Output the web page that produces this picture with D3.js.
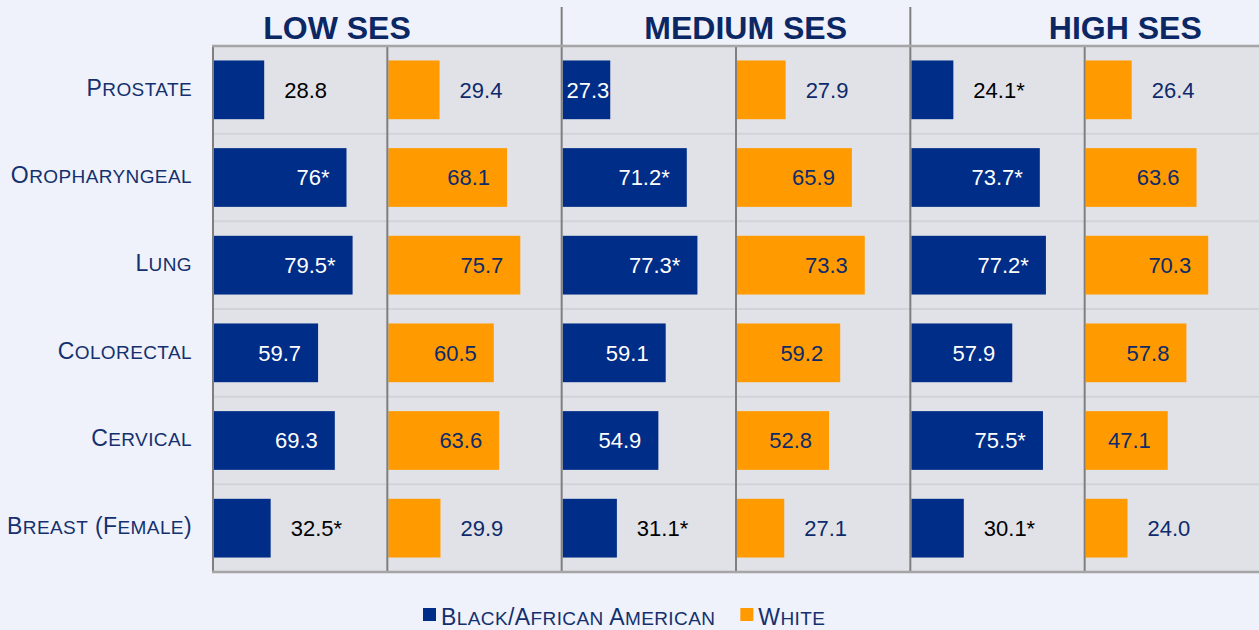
<!DOCTYPE html>
<html>
<head>
<meta charset="utf-8">
<script src="https://d3js.org/d3.v7.min.js"></script>
<style>
    body { margin: 0; background: #eff2fa; }
    svg { display: block; font-family: "Liberation Sans", Arial, sans-serif; }
    .row-line { stroke: #d2d3d9; stroke-width: 2; }
    .panel-line { stroke: #7f7f7f; stroke-width: 2; }
    .frame-line { stroke: #a5a5a5; stroke-width: 2.5; }
    .title { font-size: 32px; font-weight: bold; fill: #0b2764; text-anchor: middle; }
    .value { font-size: 22px; }
    .caps { letter-spacing: 0.4px; }
</style>
</head>
<body>
<div id="chart"></div>
<script>
    // Categories (top to bottom) and SES groups
    const categories = ['Prostate', 'Oropharyngeal', 'Lung', 'Colorectal', 'Cervical', 'Breast (Female)'];
    const sesGroups = ['LOW SES', 'MEDIUM SES', 'HIGH SES'];
    const races = ['Black/African American', 'White'];

    // Values as printed on the chart (strings so "76" and "24.0" keep their form)
    const blackLow = ['28.8', '76', '79.5', '59.7', '69.3', '32.5'];
    const whiteLow = ['29.4', '68.1', '75.7', '60.5', '63.6', '29.9'];
    const blackMedium = ['27.3', '71.2', '77.3', '59.1', '54.9', '31.1'];
    const whiteMedium = ['27.9', '65.9', '73.3', '59.2', '52.8', '27.1'];
    const blackHigh = ['24.1', '73.7', '77.2', '57.9', '75.5', '30.1'];
    const whiteHigh = ['26.4', '63.6', '70.3', '57.8', '47.1', '24.0'];

    // Significant difference markers (*) for Black/African American
    const sigLow = [false, true, true, false, false, true];
    const sigMedium = [false, true, true, false, false, true];
    const sigHigh = [true, true, true, false, true, true];

    const panels = [
        { ses: 0, race: 0, values: blackLow, sig: sigLow },
        { ses: 0, race: 1, values: whiteLow, sig: null },
        { ses: 1, race: 0, values: blackMedium, sig: sigMedium },
        { ses: 1, race: 1, values: whiteMedium, sig: null },
        { ses: 2, race: 0, values: blackHigh, sig: sigHigh },
        { ses: 2, race: 1, values: whiteHigh, sig: null }
    ];

    const colors = ['#002d87', '#ff9b00'];

    const W = 1259, H = 630;
    const plot = { left: 213, right: 1259, top: 46, bottom: 572 };

    const svg = d3.select('#chart').append('svg')
        .attr('width', W)
        .attr('height', H);

    svg.append('rect').attr('width', W).attr('height', H).attr('fill', '#eff2fa');

    // Scales
    const panelScale = d3.scaleBand()
        .domain(d3.range(panels.length))
        .range([plot.left, plot.right]);

    const yScale = d3.scaleBand()
        .domain(categories)
        .range([plot.top, plot.bottom])
        .paddingInner(0.33)
        .paddingOuter(0.165);

    const xScale = d3.scaleLinear()
        .domain([0, 100])
        .range([0, panelScale.bandwidth()]);

    // Plot background
    svg.append('rect')
        .attr('x', plot.left)
        .attr('y', plot.top)
        .attr('width', plot.right - plot.left)
        .attr('height', plot.bottom - plot.top)
        .attr('fill', '#e1e2e8');

    // Row separators
    const step = yScale.step();
    svg.selectAll('.row-line')
        .data(categories.slice(1))
        .enter()
        .append('line')
        .attr('class', 'row-line')
        .attr('x1', plot.left)
        .attr('x2', plot.right)
        .attr('y1', (d, i) => plot.top + step * (i + 1))
        .attr('y2', (d, i) => plot.top + step * (i + 1));

    // Panels
    panels.forEach((p, pi) => {
        const x0 = panelScale(pi);
        const g = svg.append('g').attr('transform', `translate(${x0},0)`);

        g.selectAll('rect.bar')
            .data(p.values)
            .enter()
            .append('rect')
            .attr('class', 'bar')
            .attr('x', 1)
            .attr('y', (d, i) => yScale(categories[i]))
            .attr('width', d => xScale(+d))
            .attr('height', yScale.bandwidth())
            .attr('fill', colors[p.race]);

        g.selectAll('text.value')
            .data(p.values)
            .enter()
            .append('text')
            .attr('class', 'value')
            .each(function (d, i) {
                const v = +d;
                const label = d + (p.sig && p.sig[i] ? '*' : '');
                const end = xScale(v) + 1;
                const t = d3.select(this)
                    .attr('y', yScale(categories[i]) + yScale.bandwidth() / 2)
                    .attr('dy', '0.36em')
                    .text(label);
                // label sits inside the bar end for long bars
                const inside = v > 40 || (p.ses === 1 && p.race === 0 && i === 0);
                if (inside) {
                    const pad = v > 40 ? 17 : 1;
                    t.attr('x', end - pad).attr('text-anchor', 'end')
                        .attr('fill', p.race === 0 ? '#ffffff' : '#0d2a6b');
                } else {
                    t.attr('x', end + 20).attr('text-anchor', 'start')
                        .attr('fill', p.race === 0 ? '#000000' : '#0d2a6b');
                }
            });
    });

    // Panel dividers
    svg.selectAll('.panel-line')
        .data(d3.range(panels.length))
        .enter()
        .append('line')
        .attr('class', 'panel-line')
        .attr('x1', d => panelScale(d))
        .attr('x2', d => panelScale(d))
        .attr('y1', d => (d % 2 === 0 && d > 0) ? 7 : plot.top)
        .attr('y2', plot.bottom);

    // Top & bottom frame
    [plot.top, plot.bottom].forEach(y => {
        svg.append('line')
            .attr('class', 'frame-line')
            .attr('x1', plot.left - 1)
            .attr('x2', plot.right)
            .attr('y1', y)
            .attr('y2', y);
    });

    // SES titles
    const titleOffset = [124, 184, 215];
    svg.selectAll('.title')
        .data(sesGroups)
        .enter()
        .append('text')
        .attr('class', 'title')
        .attr('x', (d, i) => panelScale(i * 2) + titleOffset[i])
        .attr('y', 39)
        .text(d => d);

    // small caps text helper
    function smallCaps(sel, text, big, small) {
        const runs = [];
        for (const ch of text) {
            const isSmall = ch >= 'a' && ch <= 'z';
            const last = runs[runs.length - 1];
            if (last && last.small === isSmall) last.t += ch;
            else runs.push({ small: isSmall, t: ch });
        }
        runs.forEach(r => {
            sel.append('tspan')
                .attr('font-size', r.small ? small : big)
                .text(r.small ? r.t.toUpperCase() : r.t);
        });
    }

    // Category labels
    categories.forEach(c => {
        const t = svg.append('text')
            .attr('class', 'caps')
            .attr('x', 192)
            .attr('y', yScale(c) + yScale.bandwidth() / 2)
            .attr('dy', '0.36em')
            .attr('text-anchor', 'end')
            .attr('fill', '#14306e');
        smallCaps(t, c, 23, 19);
    });

    // Legend
    const legend = svg.append('g').attr('transform', 'translate(423,0)');
    let lx = 0;
    races.forEach((r, i) => {
        legend.append('rect')
            .attr('x', lx)
            .attr('y', 608)
            .attr('width', 13)
            .attr('height', 13)
            .attr('fill', colors[i]);
        const t = legend.append('text')
            .attr('class', 'caps')
            .attr('x', lx + 18)
            .attr('y', 625)
            .attr('fill', '#14306e');
        smallCaps(t, r, 23, 19);
        lx += 18 + t.node().getComputedTextLength() + 25;
    });
</script>
</body>
</html>
